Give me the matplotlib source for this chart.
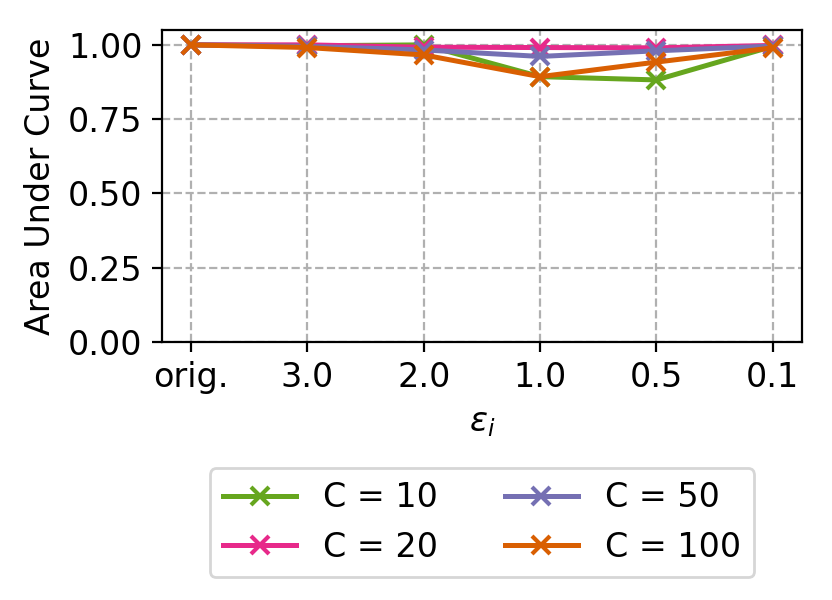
import matplotlib
matplotlib.use("Agg")
import matplotlib.pyplot as plt

eps_labels = ["orig.", "3.0", "2.0", "1.0", "0.5", "0.1"]
auc_c10 = [1.0, 0.997, 1.0, 0.893, 0.882, 0.995]
auc_c20 = [1.0, 1.0, 0.992, 0.991, 0.99, 0.998]
auc_c50 = [1.0, 0.995, 0.983, 0.961, 0.98, 0.996]
auc_c100 = [1.0, 0.991, 0.966, 0.893, 0.942, 0.99]

series = [
    ("C = 10", auc_c10, "#66a61e"),
    ("C = 20", auc_c20, "#e7298a"),
    ("C = 50", auc_c50, "#7570b3"),
    ("C = 100", auc_c100, "#d95f02"),
]

plt.rcParams["font.size"] = 12

fig = plt.figure(figsize=(4.16, 3.0), dpi=200)
ax = fig.add_axes([0.1947, 0.43, 0.769, 0.52])

x = range(len(eps_labels))
for label, vals, color in series:
    ax.plot(x, vals, marker="x", color=color, label=label,
            linewidth=1.8, markersize=6.5, markeredgewidth=1.5)

ax.set_xticks(list(x))
ax.set_xticklabels(eps_labels)
ax.set_ylim(0, 1.05)
ax.set_yticks([0.0, 0.25, 0.5, 0.75, 1.0])
ax.grid(True, linestyle="--", color="#b0b0b0")
ax.set_xlabel(r"$\epsilon_i$")
ax.set_ylabel("Area Under Curve")

fig.legend(loc="upper center", bbox_to_anchor=(482 / 832, 1 - 468 / 600),
           ncol=2, borderaxespad=0, handlelength=2.2)

fig.savefig("out.png", dpi=200)
